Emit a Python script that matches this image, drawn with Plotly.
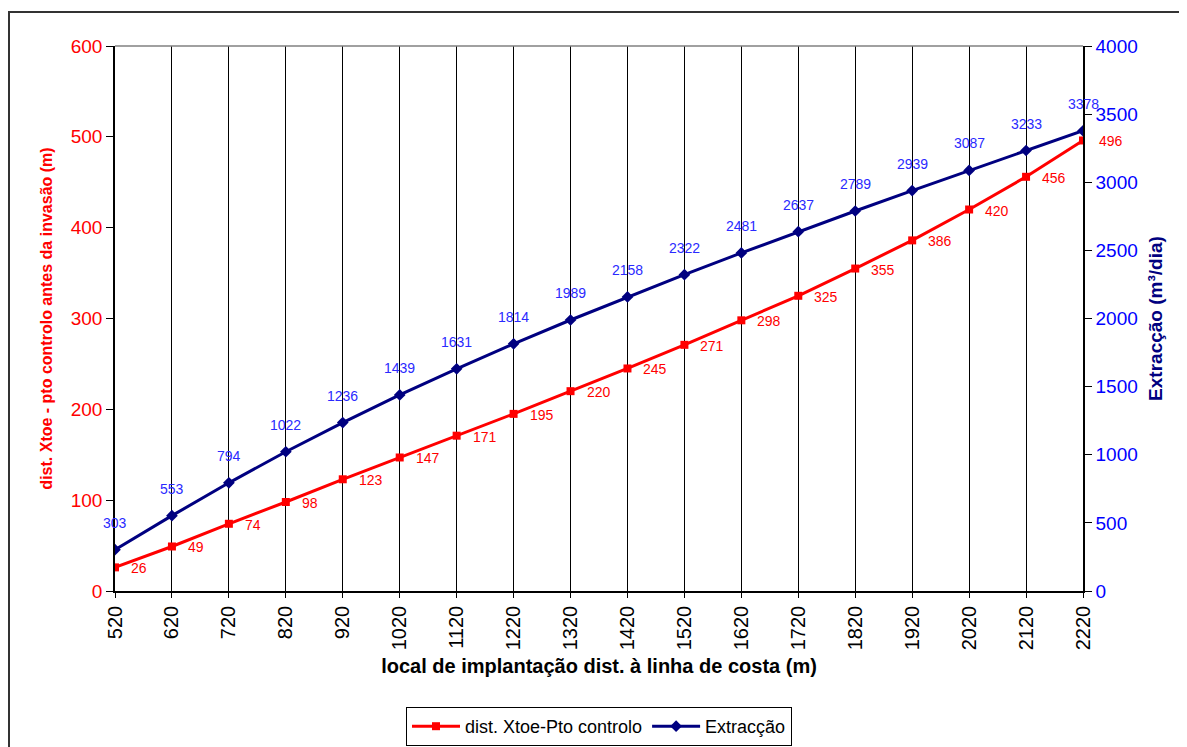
import plotly.graph_objects as go

x_vals = [520, 620, 720, 820, 920, 1020, 1120, 1220, 1320, 1420, 1520, 1620, 1720, 1820, 1920, 2020, 2120, 2220]
dist_vals = [26, 49, 74, 98, 123, 147, 171, 195, 220, 245, 271, 298, 325, 355, 386, 420, 456, 496]
extr_vals = [303, 553, 794, 1022, 1236, 1439, 1631, 1814, 1989, 2158, 2322, 2481, 2637, 2789, 2939, 3087, 3233, 3378]

RED = "#FF0000"
NAVY = "#000080"
BLUE = "#0000FF"
LBLUE = "#2a2aff"
FONT = "Liberation Sans, Arial, sans-serif"

# page has ~8px body offset; compensate
OFF = 8
W, H = 1187 - OFF, 747 - OFF
L, T = 115 - OFF, 46 - OFF
PW, PH = 968, 545
R = W - L - PW
B = H - T - PH

fig = go.Figure()
fig.add_trace(go.Scatter(
    x=x_vals, y=dist_vals, name="dist. Xtoe-Pto controlo",
    mode="lines+markers", line=dict(color=RED, width=3),
    marker=dict(symbol="square", size=8, color=RED),
    yaxis="y"))
fig.add_trace(go.Scatter(
    x=x_vals, y=extr_vals, name="Extracção",
    mode="lines+markers", line=dict(color=NAVY, width=3),
    marker=dict(symbol="diamond", size=9, color=NAVY),
    yaxis="y2"))

annotations = []
for xv, yv in zip(x_vals, dist_vals):
    annotations.append(dict(x=xv, y=yv, xref="x", yref="y", text=str(yv),
                            showarrow=False, xanchor="left", yanchor="middle",
                            xshift=14, yshift=-1,
                            font=dict(family=FONT, size=14, color=RED)))
for xv, yv in zip(x_vals, extr_vals):
    annotations.append(dict(x=xv, y=yv, xref="x", yref="y2", text=str(yv),
                            showarrow=False, xanchor="center", yanchor="middle",
                            yshift=27,
                            font=dict(family=FONT, size=14, color=LBLUE)))

fig.update_layout(
    width=W, height=H,
    margin=dict(l=L, r=R, t=T, b=B, autoexpand=False),
    paper_bgcolor="white", plot_bgcolor="white",
    font=dict(family=FONT),
    showlegend=True,
    legend=dict(orientation="h", x=0.5, xanchor="center", y=(583 - 699) / PH, yanchor="top",
                bordercolor="black", borderwidth=1,
                font=dict(family=FONT, size=18, color="black"),
                itemwidth=48),
    xaxis=dict(range=[520, 2220], tickmode="array", tickvals=x_vals,
               ticktext=[str(v) for v in x_vals], tickangle=-90,
               tickfont=dict(family=FONT, size=20, color="black"),
               showgrid=True, gridcolor="black", gridwidth=1,
               showline=True, linecolor="black", linewidth=1.5,
               ticks="outside", ticklen=5, tickcolor="black",
               zeroline=False, automargin=False,
               title=dict(text="<b>local de implantação dist. à linha de costa (m)</b>",
                          font=dict(family=FONT, size=20, color="black"), standoff=10)),
    yaxis=dict(range=[0, 600], tickvals=[0, 100, 200, 300, 400, 500, 600],
               tickfont=dict(family=FONT, size=19, color=RED),
               showgrid=False, zeroline=False, automargin=False,
               showline=True, linecolor="black", linewidth=1.5,
               ticks="outside", ticklen=7, tickcolor="black",
               title=dict(text="<b>dist. Xtoe - pto controlo antes da invasão (m)</b>",
                          font=dict(family=FONT, size=16, color=RED), standoff=14)),
    yaxis2=dict(range=[0, 4000], tickvals=[0, 500, 1000, 1500, 2000, 2500, 3000, 3500, 4000],
                overlaying="y", side="right", automargin=False,
                tickfont=dict(family=FONT, size=19, color=BLUE),
                showgrid=False, zeroline=False,
                showline=True, linecolor="black", linewidth=1.5,
                ticks="outside", ticklen=7, tickcolor="black",
                title=dict(text="<b>Extracção (m³/dia)</b>",
                           font=dict(family=FONT, size=19, color=NAVY), standoff=12)),
    annotations=annotations,
    shapes=[
        dict(type="line", xref="paper", yref="paper", x0=0, x1=1, y0=1, y1=1,
             line=dict(color="#808080", width=1.5)),
        dict(type="rect", xref="paper", yref="paper",
             x0=(9 - 115) / PW, x1=(1195 - 115) / PW,
             y0=(591 - 760) / PH, y1=(591 - 12) / PH,
             line=dict(color="#333333", width=2), layer="below"),
    ],
)

fig.write_html("out.html")
